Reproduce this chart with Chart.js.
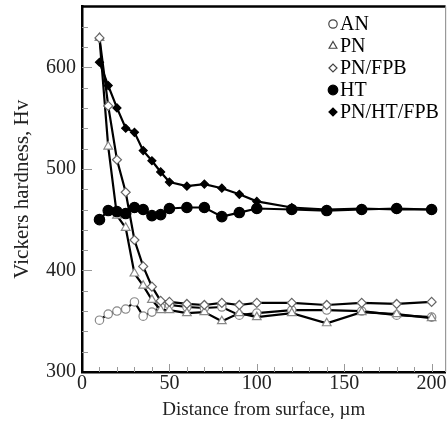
<!DOCTYPE html>
<html><head><meta charset="utf-8">
<script src="https://cdn.jsdelivr.net/npm/chart.js@4.4.1/dist/chart.umd.min.js"></script>
<style>html,body{margin:0;padding:0;background:#fff;overflow:hidden}#wrap{width:448px;height:424px;overflow:hidden}</style>
</head><body><div id="wrap"><canvas id="c" width="452" height="424"></canvas></div>
<script>
const distances = [10,15,20,25,30,35,40,45,50,60,70,80,90,100,120,140,160,180,200];
const seriesNames = ['AN','PN','PN/FPB','HT','PN/HT/FPB'];
const hvAN       = [351,357,360,362,369,355,359,364,366,364,363,364,356,358,361,361,360,356,354];
const hvPN       = [629,522,454,442,397,385,371,361,361,358,359,350,358,354,358,348,359,357,353];
const hvPNFPB    = [629,562,509,477,430,404,384,370,369,367,366,368,366,368,368,366,368,367,369];
const hvHT       = [450,459,458,456,462,460,454,455,461,462,462,453,457,461,460,459,460,461,460];
const hvPNHTFPB  = [605,582,560,540,536,518,508,497,487,483,485,481,475,468,462,460,461,460,460];
const yTicks = [300,400,500,600];
const xTicks = [0,50,100,150,200];

const FONT = "'Liberation Serif','Times New Roman',serif";
function pts(arr){ return distances.map((d,i)=>({x:d,y:arr[i]})); }

const styles = [
  {data:hvAN, pointStyle:'circle', r:4.2, bg:'#fff', bc:'#888'},
  {data:hvPN, pointStyle:'triangle', r:5, bg:'#fff', bc:'#888'},
  {data:hvPNFPB, pointStyle:'rectRot', r:4.5, bg:'#fff', bc:'#666'},
  {data:hvHT, pointStyle:'circle', r:5.2, bg:'#000', bc:'#000'},
  {data:hvPNHTFPB, pointStyle:'rectRot', r:4, bg:'#000', bc:'#000'}
];
const datasets = styles.map((s,i)=>({
  label: seriesNames[i], data: pts(s.data), borderColor:'#000', borderWidth:2.2,
  pointStyle:s.pointStyle, pointRadius:s.r, pointBackgroundColor:s.bg, pointBorderColor:s.bc,
  pointBorderWidth:1.2, tension:0, fill:false, order: 5-i
}));

const deco = {
  id:'deco',
  beforeDatasetsDraw(chart){
    const {ctx, chartArea:a, scales:{x,y}} = chart;
    ctx.save();
    ctx.strokeStyle='#999'; ctx.lineWidth=1;
    for(let v=10; v<=200; v+=10){
      const px=Math.round(x.getPixelForValue(v))+0.5;
      const len = v%50===0?8:5;
      ctx.beginPath(); ctx.moveTo(px,a.bottom); ctx.lineTo(px,a.bottom-len); ctx.stroke();
    }
    for(let v=320; v<=660; v+=20){
      const py=Math.round(y.getPixelForValue(v))+0.5;
      const len = v%100===0?10:6;
      ctx.beginPath(); ctx.moveTo(a.left,py); ctx.lineTo(a.left+len,py); ctx.stroke();
    }
    ctx.strokeStyle='#000'; ctx.lineWidth=2.5;
    ctx.beginPath(); ctx.moveTo(a.left,a.top); ctx.lineTo(a.right,a.top); ctx.stroke();
    ctx.strokeStyle='#999'; ctx.lineWidth=1.2;
    ctx.beginPath(); ctx.moveTo(a.right,a.top); ctx.lineTo(a.right,a.bottom); ctx.stroke();
    ctx.restore();
  },
  afterDatasetsDraw(chart){
    const {ctx} = chart;
    ctx.save();
    const lx = 333, ly0 = 24, dy = 22;
    ctx.font = "20px " + FONT; ctx.textBaseline='middle';
    chart.data.datasets.forEach((ds,i)=>{
      const yy = ly0 + i*dy;
      const r = [4.2,4.5,4,4.8,4][i];
      ctx.fillStyle = ds.pointBackgroundColor;
      ctx.strokeStyle = ds.pointBackgroundColor==='#fff' ? '#444' : '#000';
      ctx.lineWidth=1.2;
      Chart.helpers.drawPoint(ctx, {pointStyle:ds.pointStyle, radius:r, borderWidth:1.2}, lx, yy);
      ctx.fillStyle='#000';
      ctx.fillText(ds.label, lx+7, yy+1);
    });
    ctx.restore();
  }
};

new Chart(document.getElementById('c'), {
  type:'line',
  data:{datasets},
  options:{
    responsive:false, animation:false,
    layout:{padding:{top:6,right:0,left:0,bottom:0}},
    plugins:{legend:{display:false}, tooltip:{enabled:false}},
    scales:{
      x:{type:'linear', min:0, max:208,
        afterFit(s){ s.height=52; s.paddingLeft=0; s.paddingRight=0; },
        afterBuildTicks(s){ s.ticks = xTicks.map(v=>({value:v})); },
        ticks:{color:'#222', font:{family:FONT,size:20}, padding:0, maxRotation:0},
        grid:{display:false, drawTicks:false},
        border:{display:true, color:'#000', width:2.5},
        title:{display:true, text:'Distance from surface, µm', color:'#222', font:{family:FONT,size:19}, padding:{top:0,bottom:3}}
      },
      y:{type:'linear', min:300, max:660,
        afterFit(s){ s.width=82; s.paddingTop=0; s.paddingBottom=0; },
        afterBuildTicks(s){ s.ticks = yTicks.map(v=>({value:v})); },
        ticks:{color:'#222', font:{family:FONT,size:20}, padding:6},
        grid:{display:false, drawTicks:false},
        border:{display:true, color:'#000', width:2.5},
        title:{display:true, text:'Vickers hardness, Hv', color:'#222', font:{family:FONT,size:21}, padding:{top:10,bottom:0}}
      }
    }
  },
  plugins:[deco]
});
</script></body></html>
